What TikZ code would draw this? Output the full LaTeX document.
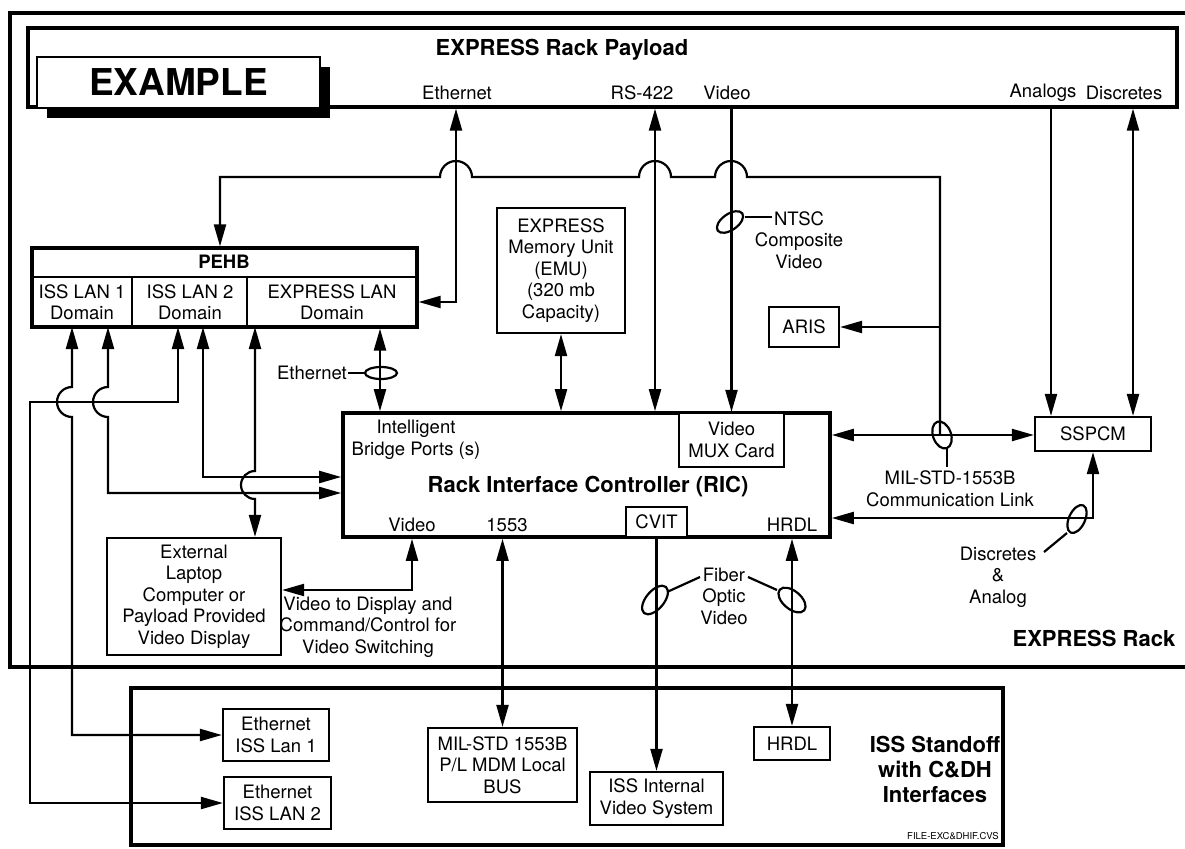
\documentclass[tikz,border=0pt]{standalone}
\usepackage{fontspec}
\setmainfont{TeX Gyre Heros}
\usetikzlibrary{arrows.meta}
\newcommand{\txtn}{\fontsize{18.5}{21.5}\selectfont}
\newcommand{\txtb}{\fontsize{22}{25}\selectfont\bfseries}
\begin{document}
\begin{tikzpicture}[x=1pt,y=-1pt,
  conn/.style={line width=2.2pt},
  tip/.style={conn,-{Triangle[length=22pt,width=12pt]}},
  both/.style={conn,{Triangle[length=22pt,width=12pt]}-{Triangle[length=22pt,width=12pt]}},
  sz/.style 2 args={minimum width=#1pt,minimum height=#2pt},
  box/.style={draw,line width=2.2pt,fill=white,align=center,inner sep=0pt,font=\txtn},
  lbl/.style={align=center,inner sep=0pt,font=\txtn},
  ttl/.style={align=center,inner sep=0pt,font=\txtb},
  thickbox/.style={draw,line width=3.2pt,inner sep=0pt}]
\useasboundingbox (0,0) rectangle (1185,848);

% EXPRESS rack frame, open to the right
\draw[line width=3.8pt] (1195,13) -- (10,13) -- (10,667) -- (1195,667);
\node[ttl] (racktitle) at (1094,638) {EXPRESS Rack};

% payload strip with the EXAMPLE stamp
\node[thickbox,sz={1149}{79}] (payload) at (602.5,67.5) {};
\fill (47,67) rectangle (330,118);
\node[draw,line width=1.5pt,fill=white,inner sep=0pt,sz={283}{51},
      font=\fontsize{37}{40}\selectfont\bfseries] (example) at (178.5,82.5) {EXAMPLE};
\node[ttl] (paytitle) at (562,50) {EXPRESS Rack Payload};
\node[lbl] (lEth)  at (457,93)  {Ethernet};
\node[lbl] (lRS)   at (642,93)  {RS-422};
\node[lbl] (lVid)  at (727,93)  {Video};
\node[lbl] (lAna)  at (1043,93) {Analogs};
\node[lbl] (lDis)  at (1124,93) {Discretes};

% ISS standoff
\node[thickbox,sz={872}{157}] (standoff) at (567,766.5) {};
\node[ttl] (sotitle) at (935,769) {ISS Standoff\\with C\&DH\\Interfaces};
\node[inner sep=0pt,anchor=south east,font=\fontsize{9.5}{11}\selectfont] (fileid) at (999,840) {FILE-EXC\&DHIF.CVS};

% PEHB
\node[thickbox,fill=white,sz={385}{79}] (pehb) at (224.5,287.5) {};
\draw[line width=1.6pt] (32,277) -- (417,277);
\draw[line width=1.6pt] (132,277) -- (132,327);
\draw[line width=1.6pt] (247,277) -- (247,327);
\node[inner sep=0pt,font=\fontsize{18.5}{21.5}\selectfont\bfseries] (pehbt) at (224,262) {PEHB};
\node[lbl] (dom1) at (82,302)  {ISS LAN 1\\Domain};
\node[lbl] (dom2) at (190,302) {ISS LAN 2\\Domain};
\node[lbl] (dom3) at (332,302) {EXPRESS LAN\\Domain};

% boxes inside the rack
\node[box,sz={128}{125}] (emu) at (561,270.5) {EXPRESS\\Memory Unit\\(EMU)\\(320 mb\\Capacity)};
\node[box,sz={70}{40}] (aris) at (804,327) {ARIS};
\node[draw,line width=3.6pt,fill=white,inner sep=0pt,sz={487}{124}] (ric) at (586.5,475) {};
\node[box,sz={105}{54}] (mux) at (731.5,440) {Video\\MUX Card};
\node[box,sz={61}{30}] (cvit) at (656.5,522) {CVIT};
\node[lbl] (ibp) at (416,440) {Intelligent\\Bridge Ports (s)};
\node[ttl] (rictitle) at (588,487) {Rack Interface Controller (RIC)};
\node[lbl] (rVid)  at (412,525) {Video};
\node[lbl] (r1553) at (507,525) {1553};
\node[lbl] (rHRDL) at (792,525) {HRDL};
\node[box,sz={116}{34}] (sspcm) at (1093,434) {SSPCM};
\node[box,sz={174}{117}] (laptop) at (194,596.5) {External\\Laptop\\Computer or\\Payload Provided\\Video Display};

% boxes in the standoff
\node[box,sz={106}{52}] (ethA) at (276,735) {Ethernet\\ISS Lan 1};
\node[box,sz={107}{52}] (ethB) at (277.5,803) {Ethernet\\ISS LAN 2};
\node[box,sz={149}{74}] (mil) at (502.5,765) {MIL-STD 1553B\\P/L MDM Local\\BUS};
\node[box,sz={133}{53}] (ivs) at (656.5,798.5) {ISS Internal\\Video System};
\node[box,sz={76}{33}] (hrdlbox) at (792,743.5) {HRDL};

% bend points
\coordinate (ethbend) at (456,302);
\coordinate (rsx) at (655,200);
\coordinate (anx) at (1051,200);
\coordinate (disx) at (1133,200);
\coordinate (lk) at (940,435);
\coordinate (pb) at (220,177);
\coordinate (dr) at (1093,518);
\coordinate (ex) at (380,350);

% payload interfaces
\draw[both] (payload.south -| ethbend) -- (ethbend) -- (ethbend -| pehb.east);
\draw[both] (payload.south -| rsx) -- (ric.north -| rsx);
\draw[tip]  (payload.south -| mux.north) -- (mux.north);
\draw[tip]  (payload.south -| anx) -- (sspcm.north -| anx);
\draw[both] (payload.south -| disx) -- (sspcm.north -| disx);
\draw[both] (emu.south) -- (ric.north -| emu.south);

% 1553 bus from PEHB over the payload lines to ARIS and the link
\draw[tip] (lk) -- (lk |- pb) -- (747,177) arc[start angle=0,end angle=180,radius=16pt]
  -- (671,177) arc[start angle=0,end angle=180,radius=16pt]
  -- (472,177) arc[start angle=0,end angle=180,radius=16pt]
  -- (pb) -- (pb |- pehb.north);
\draw[tip] (aris.east -| lk) -- (aris.east);
\draw[both] (ric.east |- lk) -- (sspcm.west |- lk);
\draw[both] (sspcm.south) -- (sspcm.south |- dr) -- (ric.east |- dr);

% PEHB to RIC
\draw[both] (pehb.south -| ex) -- (ric.north -| ex);

% PEHB domains to the ISS LANs, the bridge ports and the laptop
\draw[both] (72,327) -- (72,387) arc[start angle=90,end angle=270,radius=15pt]
  -- (72,735) -- (ethA.west);
\draw[both] (108,327) -- (108,387) arc[start angle=90,end angle=270,radius=15pt]
  -- (108,493) -- (ric.west |- 108,493);
\draw[both] (178,327) -- (178,402) -- (30,402) -- (30,803) -- (ethB.west);
\draw[both] (203,327) -- (203,477) -- (ric.west |- 203,477);
\draw[both] (255,327) -- (255,471) arc[start angle=90,end angle=270,radius=14pt]
  -- (laptop.north -| 255,500);

% RIC to the laptop and the standoff
\draw[both] (ric.south -| rVid) -- (412,590) -- (laptop.east |- 412,590);
\draw[both] (ric.south -| mil.north) -- (mil.north);
\draw[tip]  (cvit.south) -- (ivs.north);
\draw[both] (ric.south -| hrdlbox.north) -- (hrdlbox.north);

% cable markers and their labels
\draw[conn,rotate around={35:(730,222)}] (730,222) ellipse [x radius=15pt,y radius=8pt];
\draw[conn] (745,217) -- (772,217);
\node[lbl] (ntsc) at (799,240) {NTSC\\Composite\\Video};

\draw[conn] (381,373) ellipse [x radius=16pt,y radius=6pt];
\draw[conn] (348,373) -- (365,373);
\node[lbl,anchor=east] (lEth2) at (347,373) {Ethernet};

\draw[conn,rotate around={20:(942,435)}] (942,435) ellipse [x radius=9pt,y radius=14pt];
\draw[conn] (947,448) -- (947,467);
\node[lbl] (milink) at (950,489) {MIL-STD-1553B\\Communication Link};

\draw[conn,rotate around={-25:(1077,519)}] (1077,519) ellipse [x radius=8pt,y radius=15pt];
\draw[conn] (1067,533) -- (1044,552);
\node[lbl] (discr) at (998,577) {Discretes\\\&\\Analog};

\draw[conn,rotate around={50:(655,600)}] (655,600) ellipse [x radius=17pt,y radius=9pt];
\draw[conn,rotate around={-40:(792,600)}] (792,600) ellipse [x radius=16pt,y radius=9pt];
\node[lbl] (fiber) at (724,596) {Fiber\\Optic\\Video};
\draw[conn] (700,577) -- (667,592);
\draw[conn] (748,577) -- (777,590);

\node[lbl] (vidsw) at (368,627) {Video to Display and\\Command/Control for\\Video Switching};
\end{tikzpicture}
\end{document}
